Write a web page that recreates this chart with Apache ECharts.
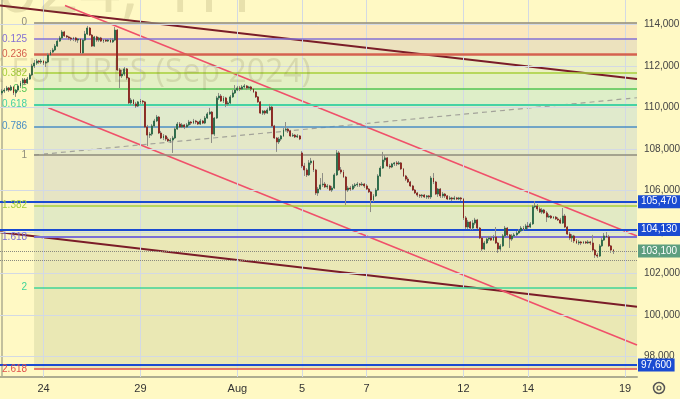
<!DOCTYPE html>
<html>
<head>
<meta charset="utf-8">
<script src="https://cdn.jsdelivr.net/npm/echarts@6/dist/echarts.min.js"></script>
<style>
  html, body { margin: 0; padding: 0; background: #fff9c4; }
  #chart { width: 680px; height: 399px; }
</style>
</head>
<body>
<div id="chart"></div>
<script>
// hourly candles, [open, close, low, high]
var candles = [
  [110710,110800,110610,110900],[110800,110850,110710,110950],[110850,110950,110800,111050],[110950,110850,110760,111000],[110850,111000,110800,111090],[111000,110710,110610,111050],
  [110710,110850,110520,110900],[110850,111050,110760,111140],[111050,111190,110950,111290],[111190,111340,111090,111430],[111340,111190,111090,111430],[111190,111380,111140,111480],
  [111380,111580,111340,111670],[111580,112010,111530,112110],[112010,112150,111910,112300],[112150,112250,112060,112350],[112250,112200,112110,112300],[112200,112250,112110,112350],
  [112250,112150,112060,112300],[112150,112200,111960,112250],[112200,112540,112150,112640],[112540,112680,112490,112780],[112680,112780,112640,112880],[112780,112970,112730,113070],
  [112970,113210,112930,113310],[113210,113360,113170,113460],[113360,113650,113310,113740],[113650,113460,113410,113700],[113460,113410,113360,113500],[113410,113360,113260,113460],
  [113360,113310,113210,113410],[113310,113360,113210,113410],[113360,113260,113170,113410],[113260,113310,113120,113360],[113310,112640,112590,113360],[112640,113260,112590,113310],
  [113260,113550,113210,113700],[113550,113840,113500,113940],[113840,113500,113460,113890],[113500,112970,112930,113550],[112970,113410,112930,113460],[113410,113260,113170,113460],
  [113260,113360,113170,113410],[113360,113210,113170,113410],[113210,113260,113120,113310],[113260,113210,113170,113310],[113210,113260,113170,113310],[113260,113170,113120,113360],
  [113170,113260,113120,113360],[113260,113740,113210,113890],[113740,111820,111770,113790],[111820,111530,110950,111910],[111530,111620,111430,111820],[111620,111870,111530,111960],
  [111870,111430,111340,111910],[111430,110230,110180,111480],[110230,110370,110130,110470],[110370,110180,110080,110420],[110180,110080,109990,110280],[110080,110280,110030,110320],
  [110280,110320,110180,110420],[110320,110280,110180,110370],[110280,109070,109020,110320],[109070,108680,108150,109170],[108680,108730,108540,108830],[108730,109120,108640,109210],
  [109120,109360,109070,109460],[109360,109550,109310,109650],[109550,108780,108730,109600],[108780,108540,108490,108880],[108540,108640,108440,108730],[108640,108490,108400,108680],
  [108490,108400,108350,108590],[108400,108440,108300,108540],[108440,108540,107820,108640],[108540,108970,108490,109070],[108970,109210,108930,109310],[109210,109070,109020,109310],
  [109070,109170,109020,109260],[109170,109070,108970,109210],[109070,109170,109020,109260],[109170,109310,109120,109410],[109310,109260,109170,109360],[109260,109360,109210,109460],
  [109360,109310,109210,109410],[109310,109210,109170,109360],[109210,109360,109170,109460],[109360,109260,109210,109410],[109260,109500,109210,109600],[109500,109700,109460,109790],
  [109700,109790,109650,109990],[109790,108730,108300,109840],[108730,109500,108640,109550],[109500,110470,109460,110560],[110470,110560,110370,110710],[110560,110320,110280,110660],
  [110320,110470,110230,110560],[110470,110180,110030,110520],[110180,110230,110080,110320],[110230,110520,110180,110610],[110520,110710,110470,110850],[110710,110850,110660,111090],
  [110850,110950,110800,111050],[110950,110900,110800,111050],[110900,111000,110850,111090],[111000,111050,110900,111140],[111050,110950,110850,111090],[110950,111000,110900,111050],
  [111000,110900,110800,111050],[110900,110760,110710,110950],[110760,110520,110470,110800],[110520,110280,110230,110560],[110280,109740,109700,110320],[109740,109840,109650,109890],
  [109840,109740,109650,109890],[109740,109890,109700,109990],[109890,110030,109840,110180],[110030,109120,109070,110080],[109120,108540,108490,109170],[108540,108350,107870,108590],
  [108350,108490,108250,108590],[108490,108640,108400,108680],[108640,108930,108590,109020],[108930,108970,108880,109310],[108970,108880,108780,109020],[108880,108640,108590,108930],
  [108640,108680,108590,108780],[108680,108590,108540,108730],[108590,108640,108540,108730],[108640,108490,108440,108680],[107820,107190,107090,107910],[107190,107000,106710,107340],
  [107000,106760,106660,107090],[106760,107340,106710,107480],[107340,107430,107240,107580],[107430,107000,106900,107480],[107000,105890,105790,107050],[105890,106080,105750,106180],
  [106080,106280,106030,106610],[106280,106320,106180,106850],[106320,106180,106130,106420],[106180,106230,106080,106320],[106230,106030,105990,106280],[106030,106130,105940,106230],
  [106130,106760,106080,106850],[106760,107820,106710,107960],[107820,107000,106950,107910],[107000,106900,106800,107140],[106900,106660,106610,107000],[106660,106030,105310,106710],
  [106030,106130,105940,106230],[106130,106080,105990,106230],[106080,106230,106030,106320],[106230,106280,106130,106370],[106280,106320,106180,106420],[106320,106280,106180,106370],
  [106280,106320,106230,106420],[106320,106230,106130,106370],[106230,106080,106030,106320],[106080,105940,105890,106130],[105940,105550,104970,105990],[105550,105750,105460,105840],
  [105750,106030,105700,106130],[106030,106710,105990,106800],[106710,107090,106660,107190],[107090,107480,107050,107870],[107480,107580,107380,107720],[107580,107190,107140,107620],
  [107190,107140,107050,107290],[107140,107290,107090,107340],[107290,107340,107190,107380],[107340,107290,107190,107430],[107290,107340,107240,107430],[107340,107050,107000,107380],
  [107050,106710,106660,107090],[106710,106560,106470,106760],[106560,106420,106370,106660],[106420,106230,106180,106470],[106230,106030,105990,106280],[106030,105890,105840,106080],
  [105890,105790,105700,105940],[105790,105750,105650,105840],[105750,105790,105650,105840],[105790,105700,105650,105840],[105700,105750,105600,105790],[105750,105700,105600,105790],
  [105700,106610,105600,106710],[106610,106420,106320,106850],[106420,105840,105790,106470],[105840,106080,105700,106130],[106080,105750,105650,106130],[105750,105840,105650,105940],
  [105840,105750,105650,105890],[105750,105600,105550,105790],[105600,105650,105550,105750],[105650,105600,105500,105700],[105600,105650,105550,105750],[105650,105600,105550,105700],
  [105600,105650,105550,105700],[105650,105600,105500,105700],[105600,104690,104590,105650],[104690,104250,104150,104780],[104250,104490,104150,104590],[104490,104200,104110,104540],
  [104200,104440,104110,104590],[104440,104590,104350,104690],[104590,104200,104150,104640],[104200,103720,103670,104250],[103720,103190,103100,103770],[103190,103480,103140,103580],
  [103480,103670,103430,103770],[103670,103720,103580,103820],[103720,103620,103580,103820],[103620,103770,103580,103870],[103770,103480,103430,104250],[103480,103190,103000,103530],
  [103190,103340,103100,103430],[103340,103820,103290,103910],[103820,104200,103770,104300],[104200,103870,103820,104250],[103870,103670,103240,103910],[103670,103820,103580,103910],
  [103820,103870,103770,103960],[103870,103960,103820,104060],[103960,104060,103910,104150],[104060,104200,104010,104300],[104200,104150,104060,104300],[104150,104300,104110,104400],
  [104300,104250,104150,104490],[104250,104400,104200,104490],[104400,105220,104350,105310],[105220,105260,105170,105500],[105260,105120,105020,105360],[105120,104970,104930,105220],
  [104970,105070,104880,105170],[105070,104930,104880,105120],[104930,104730,104490,105020],[104730,104780,104690,104880],[104780,104690,104640,104830],[104690,104730,104640,104780],
  [104730,104640,104590,104780],[104640,104590,104540,104730],[104590,104440,104400,104690],[104440,104780,104400,105170],[104780,104250,104200,104880],[104250,103910,103870,104300],
  [103910,103720,103620,104010],[103720,103820,103530,103910],[103820,103580,103480,103870],[103580,103480,103430,103670],[103480,103530,103380,103620],[103530,103480,103380,103580],
  [103480,103530,103430,103580],[103530,103480,103430,103580],[103480,103530,103430,103620],[103530,103480,103380,103580],[103480,103140,103100,103870],[103140,102900,102760,103190],
  [102900,102850,102760,103000],[102850,103340,102810,103430],[103340,103620,103290,103720],[103620,103820,103580,103960],[103820,103770,103720,104010],[103770,103340,103290,103870],
  [103340,103140,103000,103380],[103140,103100,102950,103190]
];

// first hourly bar of each labelled session
var dayIdx = [18, 60, 102, 130, 158, 200, 228, 270];
var dayLabels = ['24', '29', 'Aug', '5', '7', '12', '14', '19'];
var yTicks = [98000, 100000, 102000, 104000, 106000, 108000, 110000, 112000, 114000];

var xMin = -0.87, xMax = 275.2;
var yMin = 97022, yMax = 115190;

// fibonacci retracement drawn from 114,100 down to 107,720
var fibHigh = 114100, fibLow = 107720, fibStart = 13.9;
var fibLevels = [0, 0.125, 0.236, 0.382, 0.5, 0.618, 0.786, 1, 1.382, 1.618, 2, 2.618];
var fibLabels = ['0', '0.125', '0.236', '0.382', '0.5', '0.618', '0.786', '1', '1.382', '1.618', '2', '2.618'];

// trend lines, [bar index, price]
var maroonTop = [[-0.87, 114920], [275.2, 111380]];
var maroonBottom = [[-0.87, 104000], [275.2, 100410]];
var channelTop = [[27.3, 114920], [275.2, 103820]];
var channelBottom = [[20.07, 110000], [275.2, 98560]];
var dashedRay = [[13.87, 107720], [275.2, 110480]];

var levelLines = [105470, 104130, 97600];
var lastPrice = 103100;
var prevLow = 102660;

var FIB_COLORS = ['#8f8c7c', '#8470d4', '#d5614f', '#a6cf3a', '#52c452', '#46d2a4', '#4a8ec4',
  '#8f8c7c', '#a6cf3a', '#7b6fd6', '#3fd498', '#e0504c'];
var FIB_WIDTHS = [1.5, 1.5, 2.5, 1.5, 1.5, 2, 1.5, 1.5, 1.5, 2, 1.5, 1.5];
var ZONE_COLORS = ['#fce8be', '#ece2be', '#ecf0c4', '#e4f0c4', '#deeec8', '#e0eacc', '#e4e8c8',
  '#e6e4c4', '#e2eac4', '#eae8b6', '#eae8b4'];
var BLUE = '#1a4bd2';
var NUM_FONT = '"Liberation Sans", Arial, sans-serif';
var MARK_FILL = 'rgba(110,100,50,0.16)';

function fibPrice(l) { return fibHigh - l * (fibHigh - fibLow); }

function fmt(v) { return Number(v).toLocaleString('en-US'); }

function trendSeries(points, color, width, type) {
  return {
    type: 'line', z: 4, silent: true, symbol: 'none', data: points,
    lineStyle: { color: color, width: width, type: type || 'solid' },
  };
}

function badge(bg) {
  return {
    show: true, position: 'end', distance: 1, color: '#fff', backgroundColor: bg,
    padding: [2, 3, 1, 3], fontSize: 10, fontFamily: NUM_FONT,
  };
}

var chart = echarts.init(document.getElementById('chart'), null, { renderer: 'canvas' });

var zones = [];
for (var k = 0; k < fibLevels.length - 1; k++) {
  zones.push([
    { coord: [fibStart, fibPrice(fibLevels[k])], itemStyle: { color: ZONE_COLORS[k] } },
    { coord: [xMax, fibPrice(fibLevels[k + 1])] },
  ]);
}

var fibLines = fibLevels.map(function (l, k) {
  var p = fibPrice(l);
  return [
    { coord: [fibStart, p], lineStyle: { color: FIB_COLORS[k], width: FIB_WIDTHS[k], type: 'solid' },
      label: { formatter: fibLabels[k], color: FIB_COLORS[k] } },
    { coord: [xMax, p] },
  ];
});

var gridLines = dayIdx.map(function (d) { return { xAxis: d }; })
  .concat(yTicks.map(function (v) { return { yAxis: v }; }));

var priceLines = levelLines.map(function (v) {
  return { yAxis: v, lineStyle: { color: BLUE, width: 2, type: 'solid' }, label: Object.assign(badge(BLUE), { formatter: fmt(v) }) };
});
priceLines.push({ yAxis: lastPrice, lineStyle: { color: '#8a8a80', width: 1, type: 'dotted' },
  label: Object.assign(badge('#5d9e7f'), { formatter: fmt(lastPrice) }) });
priceLines.push({ yAxis: prevLow, lineStyle: { color: '#8a8a80', width: 1, type: 'dotted' }, label: { show: false } });

var wickData = candles.map(function (c, i) { return [i, c[0], c[1], c[2], c[3]]; });
var bodyData = candles.map(function (c, i) { return [i, c[0], c[1], Math.min(c[0], c[1]), Math.max(c[0], c[1])]; });

chart.setOption({
  backgroundColor: '#fff9c4',
  animation: false,
  grid: { left: 0, right: 43, top: 0, bottom: 22, containLabel: false, outerBoundsMode: 'none' },
  graphic: {
    elements: [
      { type: 'text', z: 100, silent: true, x: 252, y: 27,
        style: { text: 'RIU2024, 1H', align: 'right', verticalAlign: 'bottom', font: '72px "Open Sans", sans-serif', fill: MARK_FILL } },
      { type: 'text', z: 100, silent: true, x: 311, y: 89,
        style: { text: 'RTS INDEX FUTURES (Sep 2024)', align: 'right', verticalAlign: 'bottom', font: '32px "Open Sans", sans-serif', fill: MARK_FILL } },
      { type: 'circle', z: 100, silent: true, shape: { cx: 659, cy: 388, r: 5.5 }, style: { fill: 'none', stroke: '#555', lineWidth: 1.5 } },
      { type: 'circle', z: 100, silent: true, shape: { cx: 659, cy: 388, r: 2 }, style: { fill: 'none', stroke: '#555', lineWidth: 1.2 } },
    ],
  },
  xAxis: {
    type: 'value', min: xMin, max: xMax,
    axisLine: { show: true, onZero: false, lineStyle: { color: '#aeac90', width: 2 } },
    axisTick: { show: false },
    splitLine: { show: false },
    axisLabel: {
      customValues: dayIdx, color: '#333', fontSize: 11, margin: 6, fontFamily: NUM_FONT,
      formatter: function (v) { return dayLabels[dayIdx.indexOf(v)] || ''; },
    },
  },
  yAxis: {
    type: 'value', position: 'right', min: yMin, max: yMax,
    axisLine: { show: true, lineStyle: { color: '#aeac90', width: 1.5 } },
    axisTick: { show: false },
    splitLine: { show: false },
    axisLabel: { customValues: yTicks, color: '#444', fontSize: 10, margin: 7, fontFamily: NUM_FONT, formatter: fmt },
  },
  series: [
    { type: 'line', z: 0, silent: true, data: [],
      markArea: { silent: true, data: zones } },
    { type: 'line', z: 2, silent: true, data: [],
      markLine: { silent: true, symbol: ['none', 'none'], label: { show: false },
        lineStyle: { color: '#d3d9e4', width: 1, type: 'solid' }, data: gridLines } },
    { type: 'line', z: 3, silent: true, data: [],
      markLine: { silent: true, symbol: ['none', 'none'],
        label: { show: true, position: 'start', distance: 7, fontSize: 10, fontFamily: NUM_FONT },
        data: fibLines } },
    trendSeries(dashedRay, '#a3a39a', 1.2, [5, 4]),
    trendSeries(maroonTop, '#7a1c28', 2),
    trendSeries(maroonBottom, '#7a1c28', 2),
    trendSeries(channelTop, '#f0506a', 1.6),
    trendSeries(channelBottom, '#f0506a', 1.6),
    { type: 'line', z: 5, silent: true, data: [],
      markLine: { silent: true, symbol: ['none', 'none'], data: priceLines } },
    { type: 'candlestick', z: 6, silent: true, barWidth: 1, data: wickData, encode: { x: 0, y: [1, 2, 3, 4] },
      itemStyle: { color: '#8e8e86', color0: '#8e8e86', borderColor: '#8e8e86', borderColor0: '#8e8e86', borderColorDoji: '#8e8e86', borderWidth: 1 } },
    { type: 'candlestick', z: 7, silent: true, barWidth: 1.4, data: bodyData, encode: { x: 0, y: [1, 2, 3, 4] },
      itemStyle: { color: '#3f9a66', color0: '#cc3028', borderColor: '#2a6646', borderColor0: '#862620', borderColorDoji: '#555', borderWidth: 0.9 } },
  ],
}, true);
</script>
</body>
</html>
